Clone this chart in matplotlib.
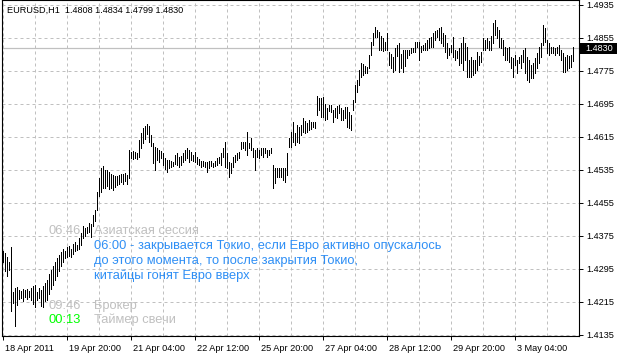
import matplotlib
matplotlib.use("Agg")
import matplotlib.pyplot as plt
from matplotlib.transforms import ScaledTranslation, blended_transform_factory
from matplotlib.patches import Rectangle

# ---------------- data (EURUSD H1 bars) ----------------
highs = [
    1.4338, 1.4333, 1.4323, 1.4311, 1.4348, 1.4238, 1.4248, 1.4250, 1.4243, 1.4241,
    1.4246, 1.4243, 1.4246, 1.4241, 1.4248, 1.4253, 1.4255, 1.4238, 1.4248, 1.4243,
    1.4253, 1.4260, 1.4267, 1.4282, 1.4292, 1.4301, 1.4311, 1.4321, 1.4328, 1.4335,
    1.4343, 1.4338, 1.4348, 1.4350, 1.4343, 1.4355, 1.4360, 1.4352, 1.4369, 1.4382,
    1.4399, 1.4394, 1.4396, 1.4406, 1.4403, 1.4425, 1.4437, 1.4481, 1.4515, 1.4539,
    1.4544, 1.4534, 1.4534, 1.4530, 1.4525, 1.4522, 1.4520, 1.4520, 1.4522, 1.4525,
    1.4525, 1.4527, 1.4522, 1.4583, 1.4578, 1.4581, 1.4578, 1.4576, 1.4607, 1.4624,
    1.4636, 1.4641, 1.4646, 1.4641, 1.4619, 1.4600, 1.4590, 1.4588, 1.4583, 1.4581,
    1.4576, 1.4564, 1.4559, 1.4559, 1.4556, 1.4554, 1.4571, 1.4576, 1.4566, 1.4568,
    1.4576, 1.4583, 1.4588, 1.4583, 1.4578, 1.4571, 1.4578, 1.4566, 1.4561, 1.4556,
    1.4556, 1.4554, 1.4554, 1.4556, 1.4556, 1.4551, 1.4556, 1.4564, 1.4566, 1.4576,
    1.4588, 1.4602, 1.4576, 1.4554, 1.4551, 1.4566, 1.4571, 1.4576, 1.4578, 1.4602,
    1.4602, 1.4602, 1.4627, 1.4600, 1.4612, 1.4588, 1.4583, 1.4588, 1.4583, 1.4588,
    1.4588, 1.4588, 1.4583, 1.4583, 1.4588, 1.4547, 1.4539, 1.4539, 1.4539, 1.4539,
    1.4539, 1.4539, 1.4576, 1.4612, 1.4627, 1.4651, 1.4624, 1.4644, 1.4639, 1.4644,
    1.4661, 1.4653, 1.4649, 1.4656, 1.4651, 1.4651, 1.4651, 1.4714, 1.4709, 1.4709,
    1.4712, 1.4695, 1.4685, 1.4692, 1.4692, 1.4680, 1.4685, 1.4690, 1.4692, 1.4685,
    1.4680, 1.4687, 1.4687, 1.4675, 1.4668, 1.4704, 1.4741, 1.4753, 1.4777, 1.4794,
    1.4792, 1.4787, 1.4784, 1.4814, 1.4845, 1.4867, 1.4882, 1.4874, 1.4869, 1.4860,
    1.4855, 1.4845, 1.4867, 1.4821, 1.4816, 1.4809, 1.4831, 1.4838, 1.4843, 1.4816,
    1.4826, 1.4826, 1.4826, 1.4826, 1.4831, 1.4831, 1.4845, 1.4845, 1.4845, 1.4835,
    1.4838, 1.4843, 1.4850, 1.4855, 1.4857, 1.4867, 1.4872, 1.4874, 1.4879, 1.4882,
    1.4867, 1.4862, 1.4843, 1.4831, 1.4838, 1.4857, 1.4826, 1.4823, 1.4831, 1.4843,
    1.4857, 1.4843, 1.4833, 1.4801, 1.4809, 1.4801, 1.4801, 1.4821, 1.4811, 1.4821,
    1.4855, 1.4850, 1.4855, 1.4848, 1.4860, 1.4891, 1.4899, 1.4882, 1.4874, 1.4855,
    1.4850, 1.4833, 1.4831, 1.4833, 1.4809, 1.4806, 1.4814, 1.4801, 1.4809, 1.4814,
    1.4826, 1.4831, 1.4809, 1.4801, 1.4789, 1.4794, 1.4806, 1.4818, 1.4833, 1.4843,
    1.4886, 1.4879, 1.4850, 1.4843, 1.4833, 1.4833, 1.4831, 1.4833, 1.4838, 1.4826,
    1.4818, 1.4809, 1.4814, 1.4811, 1.4814, 1.4834,
]
lows = [
    1.4311, 1.4289, 1.4277, 1.4292, 1.4192, 1.4212, 1.4156, 1.4207, 1.4221, 1.4224,
    1.4216, 1.4226, 1.4221, 1.4226, 1.4219, 1.4209, 1.4202, 1.4219, 1.4224, 1.4204,
    1.4202, 1.4216, 1.4219, 1.4233, 1.4246, 1.4255, 1.4267, 1.4277, 1.4289, 1.4301,
    1.4311, 1.4321, 1.4323, 1.4326, 1.4323, 1.4331, 1.4338, 1.4340, 1.4343, 1.4352,
    1.4369, 1.4374, 1.4382, 1.4384, 1.4372, 1.4399, 1.4411, 1.4437, 1.4471, 1.4481,
    1.4491, 1.4491, 1.4496, 1.4488, 1.4491, 1.4486, 1.4493, 1.4498, 1.4500, 1.4505,
    1.4500, 1.4508, 1.4500, 1.4515, 1.4564, 1.4561, 1.4564, 1.4561, 1.4566, 1.4588,
    1.4600, 1.4610, 1.4622, 1.4602, 1.4593, 1.4551, 1.4534, 1.4559, 1.4554, 1.4564,
    1.4547, 1.4537, 1.4530, 1.4539, 1.4542, 1.4544, 1.4549, 1.4547, 1.4542, 1.4547,
    1.4554, 1.4559, 1.4564, 1.4554, 1.4559, 1.4556, 1.4554, 1.4549, 1.4547, 1.4542,
    1.4544, 1.4542, 1.4530, 1.4539, 1.4544, 1.4542, 1.4544, 1.4547, 1.4551, 1.4547,
    1.4566, 1.4542, 1.4539, 1.4517, 1.4527, 1.4542, 1.4554, 1.4559, 1.4564, 1.4585,
    1.4588, 1.4583, 1.4571, 1.4588, 1.4583, 1.4566, 1.4534, 1.4566, 1.4564, 1.4571,
    1.4566, 1.4576, 1.4566, 1.4571, 1.4576, 1.4491, 1.4503, 1.4517, 1.4517, 1.4517,
    1.4510, 1.4505, 1.4522, 1.4590, 1.4590, 1.4602, 1.4595, 1.4602, 1.4600, 1.4619,
    1.4627, 1.4624, 1.4627, 1.4632, 1.4634, 1.4639, 1.4636, 1.4668, 1.4680, 1.4663,
    1.4663, 1.4656, 1.4658, 1.4678, 1.4675, 1.4651, 1.4663, 1.4661, 1.4673, 1.4656,
    1.4656, 1.4661, 1.4639, 1.4636, 1.4632, 1.4680, 1.4700, 1.4724, 1.4741, 1.4760,
    1.4765, 1.4770, 1.4770, 1.4782, 1.4814, 1.4838, 1.4857, 1.4857, 1.4826, 1.4826,
    1.4823, 1.4826, 1.4826, 1.4789, 1.4782, 1.4772, 1.4777, 1.4811, 1.4772, 1.4782,
    1.4772, 1.4787, 1.4806, 1.4814, 1.4818, 1.4821, 1.4821, 1.4833, 1.4801, 1.4821,
    1.4826, 1.4826, 1.4826, 1.4831, 1.4833, 1.4833, 1.4850, 1.4857, 1.4850, 1.4843,
    1.4835, 1.4821, 1.4806, 1.4814, 1.4821, 1.4809, 1.4801, 1.4806, 1.4789, 1.4794,
    1.4777, 1.4801, 1.4760, 1.4760, 1.4760, 1.4765, 1.4770, 1.4777, 1.4789, 1.4797,
    1.4826, 1.4826, 1.4831, 1.4826, 1.4826, 1.4843, 1.4862, 1.4855, 1.4833, 1.4831,
    1.4814, 1.4801, 1.4801, 1.4797, 1.4782, 1.4760, 1.4789, 1.4770, 1.4794, 1.4782,
    1.4797, 1.4770, 1.4753, 1.4748, 1.4758, 1.4758, 1.4770, 1.4782, 1.4794, 1.4809,
    1.4838, 1.4845, 1.4818, 1.4814, 1.4818, 1.4818, 1.4814, 1.4818, 1.4814, 1.4801,
    1.4772, 1.4772, 1.4777, 1.4782, 1.4784, 1.4799,
]
bars = list(range(len(highs)))

price_ticks = [1.4135, 1.4215, 1.4295, 1.4375, 1.4455, 1.4535, 1.4615, 1.4695, 1.4775, 1.4855, 1.4935]
price_labels = ["1.4135", "1.4215", "1.4295", "1.4375", "1.4455", "1.4535", "1.4615", "1.4695", "1.4775", "1.4855", "1.4935"]
time_tick_bars = [0, 32, 64, 96, 128, 160, 192, 224, 256]
time_labels = ["18 Apr 2011", "19 Apr 20:00", "21 Apr 04:00", "22 Apr 12:00", "25 Apr 20:00",
               "27 Apr 04:00", "28 Apr 12:00", "29 Apr 20:00", "3 May 04:00"]
grid_bars = [0, 16, 32, 48, 64, 80, 96, 112, 128, 144, 160, 176, 192, 208, 224, 240, 256, 272]
title_text = "EURUSD,H1  1.4808 1.4834 1.4799 1.4830"
current_price = 1.4830
current_label = "1.4830"

session_time, session_label = "06:46", "Азиатская сессия"
note_lines = ["06:00 - закрывается Токио, если Евро активно опускалось",
              "до этого момента, то после закрытия Токио,",
              "китайцы гонят Евро вверх"]
broker_time, broker_label = "09:46", "Брокер"
timer_time, timer_label = "00:13", "Таймер свечи"

# ---------------- figure ----------------
W, H = 617, 355
FONT = "Liberation Sans"
plt.rcParams['font.family'] = [FONT, 'DejaVu Sans']
fig = plt.figure(figsize=(W / 100, H / 100), dpi=100)
fig.patch.set_facecolor("white")
ax = fig.add_axes([2 / W, 19 / H, 577 / W, 336 / H])
ax.set_facecolor("white")

ax.set_xlim(-0.65, 287.85)
ax.set_ylim(1.41316, 1.49471)

grid_color = "#c0c0c0"
for g in grid_bars:
    ax.axvline(g, color=grid_color, lw=0.72, ls=(0, (3, 3)), zorder=1)
for p in price_ticks:
    ax.axhline(p, color=grid_color, lw=0.72, ls=(0, (3, 3)), zorder=1)
ax.axhline(current_price, color=grid_color, lw=0.9, zorder=2)

ax.vlines(bars, lows, highs, color="black", lw=0.72, zorder=3, antialiased=False)

for s in ax.spines.values():
    s.set_color("black")
    s.set_linewidth(0.8)

# y axis on the right
ax.yaxis.tick_right()
ax.set_yticks(price_ticks)
ax.set_yticklabels(price_labels)
ax.tick_params(axis="y", direction="out", length=3, width=0.7, pad=2,
               labelsize=6.6, colors="black")
for lab in ax.get_yticklabels():
    lab.set_horizontalalignment("left")

# x axis
ax.set_xticks(time_tick_bars)
ax.set_xticklabels(time_labels)
ax.tick_params(axis="x", direction="out", length=3, width=0.7, pad=3,
               labelsize=6.6, colors="black")
off = ScaledTranslation(2 / 100, 0, fig.dpi_scale_trans)
for lab in ax.get_xticklabels():
    lab.set_horizontalalignment("left")
    lab.set_transform(lab.get_transform() + off)

# current price box
btr = blended_transform_factory(ax.transAxes, ax.transData)
box_h = 11 * 0.0002427
ax.add_patch(Rectangle((1.0015, current_price - box_h / 2), 40 / 577, box_h,
                       transform=btr, facecolor="black", edgecolor="none",
                       clip_on=False, zorder=5))
ax.text(1 + 6 / 577, current_price, current_label, transform=btr, color="white",
        fontsize=6.6, va="center", ha="left", zorder=6, clip_on=False)

# title
def ftext(x, y, s, **kw):
    fig.text(x / W, 1 - y / H, s, va="center", ha="left", **kw)

ftext(7, 10, title_text, fontsize=6.6, color="black")

silver = "#c0c0c0"
blue = "#2f8ff5"
FS = 9.3
ftext(48, 231, session_time, fontsize=FS, color=silver)
ftext(94, 231, session_label, fontsize=FS, color=silver)
for k, line in enumerate(note_lines):
    ftext(94, 246 + 15 * k, line, fontsize=FS, color=blue)
ftext(48, 306, broker_time, fontsize=FS, color=silver)
ftext(94, 306, broker_label, fontsize=FS, color=silver)
ftext(48, 320, timer_time, fontsize=FS, color="#00ff00")
ftext(94, 320, timer_label, fontsize=FS, color=silver)

fig.savefig("out.png", dpi=100, facecolor="white")
